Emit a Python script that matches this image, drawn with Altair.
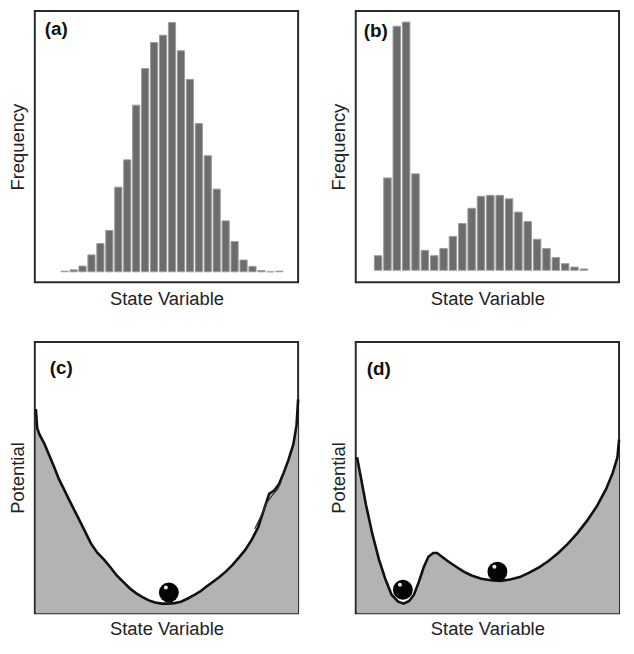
import altair as alt
import pandas as pd

# ---------------- data ----------------
panel_labels = ["(a)", "(b)", "(c)", "(d)"]
x_title = "State Variable"
y_titles = ["Frequency", "Frequency", "Potential", "Potential"]

# (a) unimodal histogram: bin index and relative frequency
hist_a_bin = list(range(1, 26))
hist_a_freq = [2, 6, 18, 53, 89, 130, 266, 352, 524, 639, 721, 744, 784,
               695, 605, 466, 365, 260, 160, 95, 37, 17, 4, 0, 2]

# (b) bimodal histogram
hist_b_bin = list(range(1, 24))
hist_b_freq = [46, 292, 772, 785, 305, 63, 46, 69, 107, 148, 196, 234, 237,
               237, 226, 184, 154, 98, 69, 40, 21, 10, 4]

# (c) single-well potential (state, potential)
pot_c_x = [0.4, 0.9, 1.8, 3.7, 5.5, 7.3, 9.2, 11.0, 12.8, 14.6, 16.5, 18.9,
           21.3, 23.8, 26.2, 28.7, 31.1, 33.5, 36.0, 38.4, 40.9, 43.3, 45.7,
           48.2, 50.6, 53.0, 55.5, 57.9, 60.4, 62.8, 65.2, 67.7, 70.1, 72.6,
           75.0, 77.4, 79.9, 82.3, 84.8, 87.2, 89.0, 90.9, 92.7, 94.5, 96.3,
           98.2, 99.4, 100.0]
pot_c_y = [75.2, 68.2, 65.8, 62.3, 58.1, 54.0, 49.3, 45.8, 42.2, 38.7, 35.1,
           30.4, 25.7, 22.2, 19.8, 16.9, 13.9, 11.6, 9.2, 7.4, 5.9, 4.7, 3.9,
           3.5, 3.5, 3.7, 4.2, 5.3, 6.6, 8.0, 9.8, 11.6, 13.3, 15.4, 17.7,
           20.4, 23.3, 26.9, 31.6, 38.7, 44.0, 45.2, 47.5, 51.7, 56.4, 62.3,
           69.3, 78.8]
# (c) second faint trace on the right flank
trace_c_x = [83.5, 85.8, 88.2, 90.3, 92.2, 93.6]
trace_c_y = [31.0, 35.6, 40.8, 43.6, 45.6, 48.4]
ball_c_x = [50.9]
ball_c_y = [7.6]

# (d) double-well potential
pot_d_x = [0.5, 2.1, 3.9, 6.3, 8.8, 11.2, 13.6, 16.1, 18.2, 20.3, 22.1,
           24.0, 25.8, 27.6, 29.4, 30.9, 32.5, 34.9, 38.0, 41.0, 44.0, 47.7,
           51.3, 55.0, 58.6, 62.3, 65.9, 69.6, 73.2, 76.9, 80.5, 84.2, 87.8,
           91.5, 95.1, 97.6, 99.4, 100.0]
pot_d_y = [57.5, 49.3, 39.9, 29.2, 19.8, 12.7, 6.8, 4.2, 3.5, 4.5, 6.8,
           11.6, 16.9, 20.8, 22.2, 22.2, 21.0, 19.2, 17.2, 15.3, 13.9, 12.7,
           12.1, 11.9, 12.4, 13.3, 14.9, 16.9, 19.2, 22.2, 25.5, 29.5, 34.0,
           39.3, 45.8, 51.7, 57.5, 64.0]
ball_d_x = [17.9, 53.8]
ball_d_y = [8.6, 15.3]

# ---------------- styling ----------------
W, H = 265, 273
FONT = "Liberation Sans"
TEXT_COLOR = "#222222"
TITLE_SIZE = 18.5


def x_axis():
    return alt.Axis(title=x_title, labels=False, ticks=False, domain=False,
                    grid=False, titleFont=FONT, titleFontSize=TITLE_SIZE,
                    titleFontWeight="normal", titleColor=TEXT_COLOR,
                    titlePadding=7)


def y_axis(t):
    return alt.Axis(title=t, labels=False, ticks=False, domain=False,
                    grid=False, titleFont=FONT, titleFontSize=TITLE_SIZE,
                    titleFontWeight="normal", titleColor=TEXT_COLOR,
                    titlePadding=7)


def label_layer(lbl, dx, dy):
    return alt.Chart(alt.Data(values=[{"label": lbl}])).mark_text(
        font=FONT, fontSize=19, fontWeight="bold", color="#111111",
        align="left", baseline="middle"
    ).encode(x=alt.value(dx), y=alt.value(dy), text="label:N")


def histogram(bins, freqs, xdom, ydom, idx, dx, dy):
    df = pd.DataFrame({"bin": bins, "freq": freqs})
    bars = alt.Chart(df).transform_calculate(
        lo="datum.bin - 0.4", hi="datum.bin + 0.4"
    ).mark_bar(color="#6c6c6c", stroke="#9c9c9c", strokeWidth=1).encode(
        x=alt.X("lo:Q", scale=alt.Scale(domain=xdom, nice=False, zero=False),
                axis=x_axis()),
        x2="hi:Q",
        y=alt.Y("freq:Q", scale=alt.Scale(domain=ydom, nice=False),
                axis=y_axis(y_titles[idx])),
        y2=alt.datum(0),
    )
    return alt.layer(bars, label_layer(panel_labels[idx], dx, dy)).properties(
        width=W, height=H)


def potential(px, py, bx, by, idx, dx, dy, tx=None, ty=None):
    df = pd.DataFrame({"state": px, "potential": py})
    xs = alt.Scale(domain=[0, 100], nice=False, zero=False)
    ys = alt.Scale(domain=[0, 100], nice=False, zero=False)

    def enc():
        return dict(
            x=alt.X("state:Q", scale=xs, axis=x_axis()),
            y=alt.Y("potential:Q", scale=ys, axis=y_axis(y_titles[idx])),
        )

    area = alt.Chart(df).mark_area(color="#b3b3b3").encode(
        y2=alt.datum(0), **enc())
    line = alt.Chart(df).mark_line(color="#111111", strokeWidth=2.6).encode(
        **enc())
    layers = [area, line]
    if tx is not None:
        tdf = pd.DataFrame({"state": tx, "potential": ty})
        layers.append(alt.Chart(tdf).mark_line(
            color="#333333", strokeWidth=1.2).encode(**enc()))
    bdf = pd.DataFrame({"state": bx, "potential": by})
    ball = alt.Chart(bdf).mark_circle(size=400, color="#050505",
                                      opacity=1).encode(**enc())
    shine = alt.Chart(bdf).mark_circle(size=16, color="#ffffff", opacity=0.9,
                                       xOffset=-3, yOffset=-5).encode(**enc())
    layers += [ball, shine, label_layer(panel_labels[idx], dx, dy)]
    return alt.layer(*layers).properties(width=W, height=H)


pa = histogram(hist_a_bin, hist_a_freq, [-2.33, 27.1], [-33, 820], 0, 10, 18)
pb = histogram(hist_b_bin, hist_b_freq, [-1.39, 26.76], [-38, 820], 1, 8, 20)
pc = potential(pot_c_x, pot_c_y, ball_c_x, ball_c_y, 2, 15, 26,
               trace_c_x, trace_c_y)
pd_ = potential(pot_d_x, pot_d_y, ball_d_x, ball_d_y, 3, 11, 27)

chart = alt.concat(pa, pb, pc, pd_, columns=2,
                   spacing={"row": 32, "column": 24}).properties(
    padding={"left": 0, "top": 0, "right": 0, "bottom": 0},
    background="white",
).configure_view(stroke="#2a2a2a", strokeWidth=2)

chart.save("out.html", embed_options={"renderer": "svg", "actions": False})
